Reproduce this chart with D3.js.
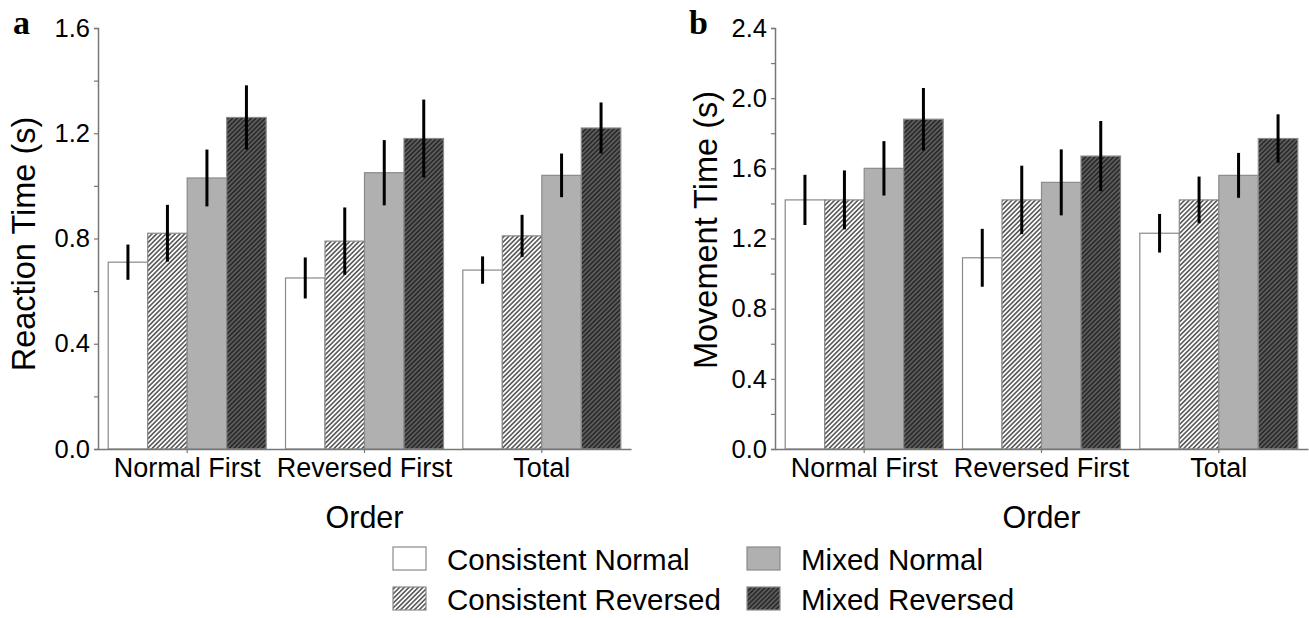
<!DOCTYPE html>
<html>
<head>
<meta charset="utf-8">
<script src="https://cdn.jsdelivr.net/npm/d3@7"></script>
<style>
  body { margin: 0; background: #fff; }
  svg { display: block; }
  text { font-family: "Liberation Sans", Arial, sans-serif; fill: #000; }
  .panel-letter { font-family: "Liberation Serif", "DejaVu Serif", serif; font-weight: bold; }
</style>
</head>
<body>
<div id="chart"></div>
<script>
/* global d3:true */

const orders = ['Normal First', 'Reversed First', 'Total'];
const conditions = ['Consistent Normal', 'Consistent Reversed', 'Mixed Normal', 'Mixed Reversed'];

// reaction time (s), one array per condition, in order of `orders`
const rtConsistentNormal = [0.71, 0.65, 0.68];
const rtConsistentReversed = [0.82, 0.79, 0.81];
const rtMixedNormal = [1.03, 1.05, 1.04];
const rtMixedReversed = [1.26, 1.18, 1.22];
const rtErrConsistentNormal = [0.067, 0.078, 0.052];
const rtErrConsistentReversed = [0.108, 0.128, 0.08];
const rtErrMixedNormal = [0.108, 0.124, 0.083];
const rtErrMixedReversed = [0.122, 0.148, 0.097];

// movement time (s)
const mtConsistentNormal = [1.42, 1.09, 1.23];
const mtConsistentReversed = [1.42, 1.42, 1.42];
const mtMixedNormal = [1.60, 1.52, 1.56];
const mtMixedReversed = [1.88, 1.67, 1.77];
const mtErrConsistentNormal = [0.143, 0.165, 0.11];
const mtErrConsistentReversed = [0.168, 0.195, 0.133];
const mtErrMixedNormal = [0.155, 0.188, 0.128];
const mtErrMixedReversed = [0.178, 0.2, 0.138];

const rtTicks = [0, 0.2, 0.4, 0.6, 0.8, 1.0, 1.2, 1.4, 1.6];
const mtTicks = [0, 0.2, 0.4, 0.6, 0.8, 1.0, 1.2, 1.4, 1.6, 1.8, 2.0, 2.2, 2.4];

const width = 1309;
const height = 618;

const svg = d3.select('#chart').append('svg')
  .attr('width', width)
  .attr('height', height);

const defs = svg.append('defs');

function hatch(id, bg, line, gap, lw) {
  const p = defs.append('pattern')
    .attr('id', id)
    .attr('patternUnits', 'userSpaceOnUse')
    .attr('width', gap)
    .attr('height', gap)
    .attr('patternTransform', 'rotate(45)');
  p.append('rect').attr('width', gap).attr('height', gap).attr('fill', bg);
  p.append('line')
    .attr('x1', gap / 2).attr('x2', gap / 2)
    .attr('y1', 0).attr('y2', gap)
    .attr('stroke', line)
    .attr('stroke-width', lw);
}
hatch('hatchLight', '#ffffff', '#404040', 3.3, 1.4);
hatch('hatchDark', '#2b2b2b', '#767676', 3.3, 1.1);

const fills = {
  'Consistent Normal': '#ffffff',
  'Consistent Reversed': 'url(#hatchLight)',
  'Mixed Normal': '#b0b0b0',
  'Mixed Reversed': 'url(#hatchDark)'
};

function makeRows(values, errors) {
  return orders.map((o, i) => ({
    order: o,
    bars: conditions.map((c, j) => ({ cond: c, value: values[j][i], err: errors[j][i] }))
  }));
}

const rtRows = makeRows(
  [rtConsistentNormal, rtConsistentReversed, rtMixedNormal, rtMixedReversed],
  [rtErrConsistentNormal, rtErrConsistentReversed, rtErrMixedNormal, rtErrMixedReversed]
);
const mtRows = makeRows(
  [mtConsistentNormal, mtConsistentReversed, mtMixedNormal, mtMixedReversed],
  [mtErrConsistentNormal, mtErrConsistentReversed, mtErrMixedNormal, mtErrMixedReversed]
);

const plotTop = 28;
const plotBottom = 449;

function drawPanel(opts) {
  const g = svg.append('g');

  const x0 = d3.scaleBand()
    .domain(orders)
    .range([opts.left, opts.right])
    .paddingInner(0.109)
    .paddingOuter(0.0575);

  const x1 = d3.scaleBand()
    .domain(conditions)
    .range([0, x0.bandwidth()]);

  const y = d3.scaleLinear()
    .domain([0, opts.max])
    .range([plotBottom, plotTop]);

  const groups = g.selectAll('.group')
    .data(opts.rows)
    .enter()
    .append('g')
    .attr('class', 'group')
    .attr('transform', d => `translate(${x0(d.order)},0)`);

  groups.selectAll('rect')
    .data(d => d.bars)
    .enter()
    .append('rect')
    .attr('x', d => x1(d.cond))
    .attr('y', d => y(d.value))
    .attr('width', x1.bandwidth())
    .attr('height', d => y(0) - y(d.value))
    .attr('fill', d => fills[d.cond])
    .attr('stroke', '#8a8a8a')
    .attr('stroke-width', 1.2);

  groups.selectAll('.err')
    .data(d => d.bars)
    .enter()
    .append('line')
    .attr('class', 'err')
    .attr('x1', d => x1(d.cond) + x1.bandwidth() / 2)
    .attr('x2', d => x1(d.cond) + x1.bandwidth() / 2)
    .attr('y1', d => y(d.value + d.err))
    .attr('y2', d => y(d.value - d.err))
    .attr('stroke', '#000')
    .attr('stroke-width', 3);

  // y axis
  const yAxis = d3.axisLeft(y)
    .tickValues(opts.ticks)
    .tickSize(4)
    .tickPadding(4)
    .tickFormat(d => (Math.round(d * 10) % 4 === 0 ? d3.format('.1f')(d) : ''));

  const ya = g.append('g')
    .attr('transform', `translate(${opts.left},0)`)
    .call(yAxis);
  ya.select('.domain').attr('stroke', '#777').attr('stroke-width', 1.5);
  ya.selectAll('.tick line').attr('stroke', '#777').attr('stroke-width', 1.2);
  ya.selectAll('.tick text')
    .style('font-family', '"Liberation Sans", Arial, sans-serif')
    .attr('font-size', 25.5)
    .attr('fill', '#000');

  // x axis
  const xa = g.append('g')
    .attr('transform', `translate(0,${plotBottom})`)
    .call(d3.axisBottom(x0).tickSize(4).tickSizeOuter(0).tickPadding(5));
  xa.select('.domain').attr('stroke', '#777').attr('stroke-width', 1.5);
  xa.selectAll('.tick line').attr('stroke', '#777').attr('stroke-width', 1.2);
  xa.selectAll('.tick text')
    .style('font-family', '"Liberation Sans", Arial, sans-serif')
    .attr('font-size', 27)
    .attr('fill', '#000');

  g.append('text')
    .attr('x', (opts.left + opts.right) / 2)
    .attr('y', 528)
    .attr('text-anchor', 'middle')
    .attr('font-size', 30.5)
    .text('Order');

  g.append('text')
    .attr('transform', `translate(${opts.labelX},${opts.labelY}) rotate(-90)`)
    .attr('text-anchor', 'middle')
    .attr('font-size', 32.5)
    .text(opts.yLabel);

  g.append('text')
    .attr('class', 'panel-letter')
    .attr('x', opts.letterX)
    .attr('y', 34)
    .attr('font-size', 34)
    .text(opts.letter);
}

drawPanel({
  rows: rtRows, max: 1.6, ticks: rtTicks,
  left: 98, right: 631,
  yLabel: 'Reaction Time (s)', labelX: 35, labelY: 244,
  letter: 'a', letterX: 13
});

drawPanel({
  rows: mtRows, max: 2.4, ticks: mtTicks,
  left: 775, right: 1308,
  yLabel: 'Movement Time (s)', labelX: 717, labelY: 230,
  letter: 'b', letterX: 689
});

// legend
const legendItems = [
  { cond: 'Consistent Normal', x: 393, y: 547 },
  { cond: 'Mixed Normal', x: 747, y: 547 },
  { cond: 'Consistent Reversed', x: 393, y: 587 },
  { cond: 'Mixed Reversed', x: 747, y: 587 }
];

const legend = svg.append('g');
const item = legend.selectAll('.item')
  .data(legendItems)
  .enter()
  .append('g')
  .attr('transform', d => `translate(${d.x},${d.y})`);

item.append('rect')
  .attr('width', 33)
  .attr('height', 23)
  .attr('fill', d => fills[d.cond])
  .attr('stroke', '#8a8a8a')
  .attr('stroke-width', 1.2);

item.append('text')
  .attr('x', 54)
  .attr('y', 23)
  .attr('font-size', 29.5)
  .text(d => d.cond);
</script>
</body>
</html>
